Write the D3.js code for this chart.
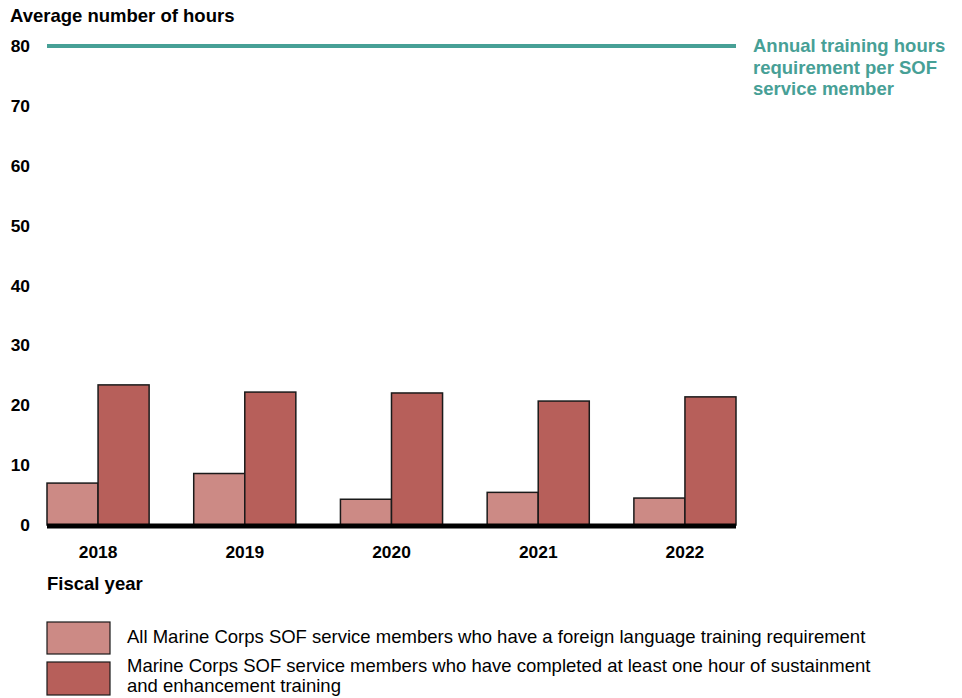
<!DOCTYPE html>
<html>
<head>
<meta charset="utf-8">
<script src="https://cdn.jsdelivr.net/npm/d3@7"></script>
<style>
    body { margin: 0; background: #fff; }
    svg { font-family: "Liberation Sans", Arial, sans-serif; }
    .axis text { font-size: 17.4px; font-weight: bold; fill: #000; }
</style>
</head>
<body>
<svg id="plot"></svg>
<script>
'use strict';

const years = ['2018', '2019', '2020', '2021', '2022'];
const languageRequirement = [7.0, 8.6, 4.3, 5.45, 4.5];
const completedSustainment = [23.4, 22.2, 22.05, 20.7, 21.4];
const yTicks = [0, 10, 20, 30, 40, 50, 60, 70, 80];
const requirementHours = 80;
const seriesNames = [
    ['All Marine Corps SOF service members who have a foreign language training requirement'],
    ['Marine Corps SOF service members who have completed at least one hour of sustainment', 'and enhancement training']
];
const requirementLabel = ['Annual training hours', 'requirement per SOF', 'service member'];

const width = 962;
const height = 698;
const plotLeft = 47;
const plotRight = 736;
const plotTop = 46;
const plotBottom = 525;
const colors = ['#cc8a85', '#b75f5a'];
const teal = '#47a096';

const svg = d3.select('#plot').attr('width', width).attr('height', height);

const x0 = d3.scaleBand()
    .domain(years)
    .range([plotLeft, plotRight])
    .paddingInner(0.304)
    .paddingOuter(0);

const x1 = d3.scaleBand()
    .domain([0, 1])
    .range([0, x0.bandwidth()]);

const y = d3.scaleLinear()
    .domain([0, 80])
    .range([plotBottom, plotTop]);

// y axis
svg.append('g')
    .attr('class', 'axis')
    .attr('transform', `translate(${plotLeft}, 0)`)
    .call(d3.axisLeft(y).tickValues(yTicks).tickSize(0).tickPadding(17))
    .call(g => g.select('.domain').remove());

svg.append('text')
    .attr('x', 10)
    .attr('y', 22)
    .attr('font-size', 18.5)
    .attr('font-weight', 'bold')
    .text('Average number of hours');

// bars
const groups = svg.append('g')
    .selectAll('g')
    .data(years.map((year, i) => ({ year, values: [languageRequirement[i], completedSustainment[i]] })))
    .join('g')
    .attr('transform', d => `translate(${x0(d.year)}, 0)`);

groups.selectAll('rect')
    .data(d => d.values.map((value, index) => ({ value, index })))
    .join('rect')
    .attr('x', d => x1(d.index))
    .attr('y', d => y(d.value))
    .attr('width', x1.bandwidth())
    .attr('height', d => y(0) - y(d.value))
    .attr('fill', d => colors[d.index])
    .attr('stroke', '#1a1a1a')
    .attr('stroke-width', 1.5);

// baseline
svg.append('line')
    .attr('x1', plotLeft)
    .attr('x2', plotRight)
    .attr('y1', y(0) + 1)
    .attr('y2', y(0) + 1)
    .attr('stroke', '#000')
    .attr('stroke-width', 5);

// x axis labels
svg.append('g')
    .attr('class', 'axis')
    .attr('transform', `translate(0, 558)`)
    .call(d3.axisBottom(x0).tickSize(0).tickPadding(0))
    .call(g => g.select('.domain').remove())
    .call(g => g.selectAll('.tick text').attr('dy', 0));

svg.append('text')
    .attr('x', plotLeft)
    .attr('y', 590)
    .attr('font-size', 18.5)
    .attr('font-weight', 'bold')
    .text('Fiscal year');

// requirement line
svg.append('line')
    .attr('x1', plotLeft)
    .attr('x2', plotRight)
    .attr('y1', y(requirementHours))
    .attr('y2', y(requirementHours))
    .attr('stroke', teal)
    .attr('stroke-width', 4);

svg.append('text')
    .attr('x', 753)
    .attr('y', y(requirementHours) + 6)
    .attr('font-size', 18.5)
    .attr('font-weight', 'bold')
    .attr('fill', teal)
    .selectAll('tspan')
    .data(requirementLabel)
    .join('tspan')
    .attr('x', 753)
    .attr('dy', (_, i) => i === 0 ? 0 : 21.5)
    .text(d => d);

// legend
const legend = svg.append('g')
    .selectAll('g')
    .data(seriesNames)
    .join('g')
    .attr('transform', (_, i) => `translate(47, ${622 + i * 40})`);

legend.append('rect')
    .attr('width', 63)
    .attr('height', (_, i) => i === 0 ? 32 : 33)
    .attr('fill', (_, i) => colors[i])
    .attr('stroke', '#1a1a1a')
    .attr('stroke-width', 1.2);

legend.append('text')
    .attr('x', 80)
    .attr('y', (_, i) => i === 0 ? 21 : 10)
    .attr('font-size', 18.5)
    .selectAll('tspan')
    .data(d => d)
    .join('tspan')
    .attr('x', 80)
    .attr('dy', (_, i) => i === 0 ? 0 : 20)
    .text(d => d);
</script>
</body>
</html>
